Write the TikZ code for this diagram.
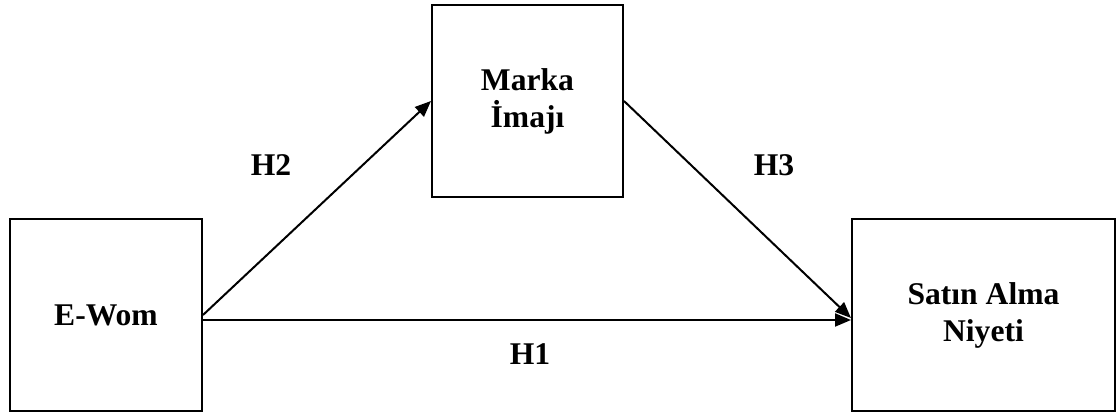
\documentclass[tikz,border=0pt]{standalone}
\usepackage{fontspec}
\setmainfont{Liberation Serif}
\usetikzlibrary{arrows.meta,positioning}
\tikzset{
    %Define standard arrow tip
    >={Triangle[length=8pt,width=6.5pt]},
    %Define style for boxes
    kutu/.style={
           rectangle,
           draw=black, line width=1pt,
           minimum width=96pt,
           minimum height=96pt,
           font=\fontsize{15.8}{18.5}\selectfont\bfseries,
           align=center},
    %Define style for labels
    etiket/.style={
           font=\fontsize{15.8}{18.5}\selectfont\bfseries},
    % Define arrow style
    ok/.style={
           ->,
           line width=1pt}
}
\begin{document}
\begin{tikzpicture}[x=1pt,y=1pt]
\useasboundingbox (0,0) rectangle (558,208.5);
\node[kutu](ewom) at (53,51){E-Wom};
\node[kutu, minimum width=95.5pt](marka) at (263.75,158){Marka\\İmajı};
\node[kutu, minimum width=131.5pt](satin) at (491.75,51){Satın Alma\\Niyeti};
\node[etiket](h2) at (135.5,126){H2};
\node[etiket](h3) at (387,126){H3};
\node[etiket](h1) at (265,31.5){H1};
\draw[ok] (ewom.east) -- (marka.west);
\draw[ok] (marka.east) -- ([yshift=-1.5pt]satin.west);
\draw[ok] ([yshift=-2.5pt]ewom.east) -- ([yshift=-2.5pt]satin.west);
\end{tikzpicture}
\end{document}
